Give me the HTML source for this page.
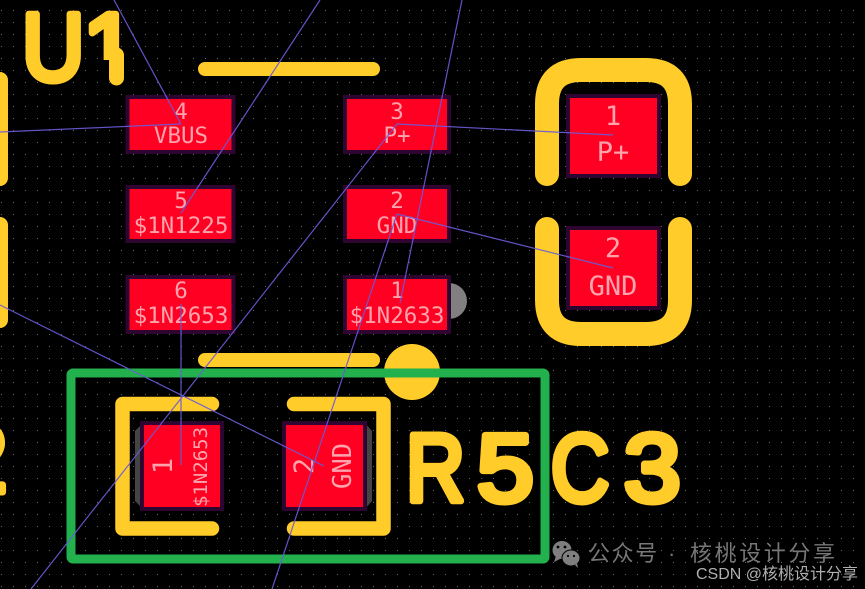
<!DOCTYPE html>
<html><head><meta charset="utf-8"><style>
html,body{margin:0;padding:0;background:#000;width:865px;height:589px;overflow:hidden}
svg{display:block}
.m{font-family:"DejaVu Sans Mono","Liberation Mono",monospace;fill:#ffa3ad;text-anchor:middle}
.b{font-family:"Liberation Sans",sans-serif;fill:#ffcc29;stroke:#ffcc29;stroke-width:7;stroke-linejoin:round;font-size:96px}
.y{fill:none;stroke:#ffcc29;stroke-linecap:round;stroke-linejoin:round}
.l{stroke:#6a5cd8;stroke-width:1.2;fill:none;opacity:.92}
.p{fill:#ff0022;stroke:#2e0530;stroke-width:4}
</style></head><body>
<svg width="865" height="589" viewBox="0 0 865 589" xmlns="http://www.w3.org/2000/svg">
<defs>
<pattern id="g" x="1" y="10" width="12" height="12" patternUnits="userSpaceOnUse"><rect width="1" height="1" fill="#666"/></pattern>
<clipPath id="c1"><path d="M80 0H135V60H80Z"/></clipPath>
</defs>
<rect width="865" height="589" fill="#000"/>
<rect width="865" height="589" fill="url(#g)"/>

<!-- silk big labels -->
<text class="b" transform="translate(22,80) scale(.9,1)">U</text>
<g clip-path="url(#c1)"><text class="b" x="83" y="80">1</text></g>
<path class="y" stroke-width="15" d="M116.5 55V78"/>
<text class="b" x="-46" y="492">2</text>
<text class="b" transform="translate(406,501) scale(.85,1)">R</text>
<text class="b" transform="translate(477,501) scale(1.06,1)">5</text>
<text class="b" transform="translate(551,501) scale(.84,1)">C</text>
<text class="b" transform="translate(624,501) scale(1.06,1)">3</text>

<!-- left edge fragments -->
<path class="y" stroke-width="16" d="M0 80V178M0 225V320"/>

<!-- U1 silk -->
<path class="y" stroke-width="14" d="M205 69H373M205 360H373"/>
<circle cx="449" cy="301" r="18" fill="#808080"/>
<circle cx="412" cy="372" r="28" fill="#ffcc29"/>

<!-- U1 pads -->
<rect class="p" x="127.5" y="97" width="106" height="55"/>
<rect class="p" x="127.5" y="187" width="106" height="54"/>
<rect class="p" x="127.5" y="277" width="106" height="55"/>
<rect class="p" x="345" y="97" width="104" height="55"/>
<rect class="p" x="345" y="187" width="104" height="54"/>
<rect class="p" x="345" y="277" width="104" height="55"/>

<g font-size="22.5">
<text class="m" x="181" y="119">4</text><text class="m" x="181" y="143">VBUS</text>
<text class="m" x="181" y="208">5</text><text class="m" x="181" y="233">$1N1225</text>
<text class="m" x="181" y="298">6</text><text class="m" x="181" y="323">$1N2653</text>
<text class="m" x="397" y="119">3</text><text class="m" x="397" y="143">P+</text>
<text class="m" x="397" y="208">2</text><text class="m" x="397" y="233">GND</text>
<text class="m" x="397" y="298">1</text><text class="m" x="397" y="323">$1N2633</text>
</g>

<!-- J pads -->
<path class="y" stroke-width="24" d="M547 174V104Q547 70 581 70H646Q680 70 680 104V174"/>
<path class="y" stroke-width="24" d="M547 229V300Q547 334 581 334H646Q680 334 680 300V229"/>
<rect class="p" x="568" y="96" width="91" height="80"/>
<rect class="p" x="568" y="228" width="91" height="80"/>
<g font-size="27">
<text class="m" x="613" y="125">1</text><text class="m" x="613" y="161">P+</text>
<text class="m" x="613" y="257">2</text><text class="m" x="613" y="295">GND</text>
</g>

<!-- R footprint -->
<polygon points="143,423 135,431 135,501 143,509 160,509 160,423" fill="#444"/>
<polygon points="350,423 365,423 372,431 372,501 365,509 350,509" fill="#444"/>
<path class="y" stroke-width="14.5" d="M212 404H122.5V528.5H212M294 404H383.5V528.5H294"/>
<rect class="p" x="142" y="423" width="80" height="86"/>
<rect class="p" x="284" y="423" width="81" height="86"/>
<text class="m" font-size="27" transform="translate(172,466) rotate(-90)">1</text>
<text class="m" font-size="19" transform="translate(207,467) rotate(-90)">$1N2653</text>
<text class="m" font-size="27" transform="translate(313,466) rotate(-90)">2</text>
<text class="m" font-size="25.5" transform="translate(351,466) rotate(-90)">GND</text>

<!-- courtyard -->
<rect x="71" y="373" width="474" height="186" rx="2" fill="none" stroke="#22b14c" stroke-width="9" stroke-linejoin="round"/>

<!-- ratsnest -->
<g class="l">
<path d="M0 132L181 124"/>
<path d="M114 0L181 124"/>
<path d="M320 0L181 213"/>
<path d="M397 124L613 135"/>
<path d="M397 124L31 589"/>
<path d="M462 0L400 303"/>
<path d="M397 214L613 268"/>
<path d="M397 214L272 589"/>
<path d="M181 304V465"/>
<path d="M0 305L324 466"/>
</g>

<!-- watermark -->
<g fill="#7f7f7f">
<ellipse cx="562" cy="550" rx="9.5" ry="9"/>
<path d="M556 556l-2 6 6-3z"/>
</g>
<g fill="#7f7f7f" stroke="#000" stroke-width="1">
<ellipse cx="571" cy="558" rx="9" ry="8"/>
</g>
<path d="M575 565l3 3-1-5z" fill="#7f7f7f"/>
<g fill="#000"><circle cx="558" cy="547" r="1.4"/><circle cx="565" cy="547" r="1.4"/><circle cx="568" cy="556" r="1.1"/><circle cx="574" cy="556" r="1.1"/></g>
<g font-size="22" fill="#777" font-family="'Liberation Sans','Noto Sans CJK SC',sans-serif">
<text x="588" y="561" letter-spacing="1.6">公众号</text>
<text x="668" y="561">·</text>
<text x="690" y="561" letter-spacing="2.6">核桃设计分享</text>
</g>
<text x="696" y="579" font-size="16" fill="#b0b0b0" font-family="'Liberation Sans','Noto Sans CJK SC',sans-serif">CSDN @核桃设计分享</text>
</svg>
</body></html>
